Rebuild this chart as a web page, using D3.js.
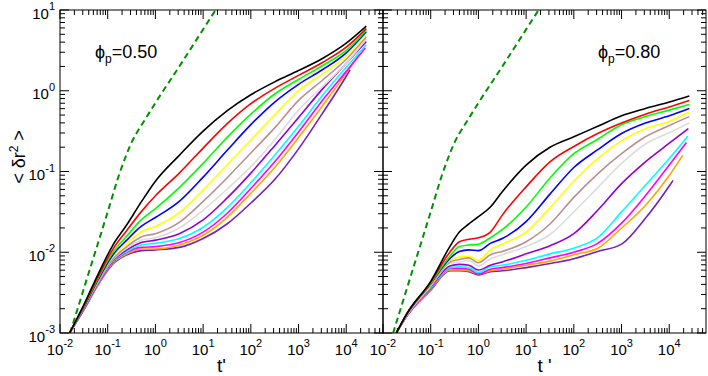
<!DOCTYPE html>
<html>
<head>
<meta charset="UTF-8">
<style>
  body { margin: 0; background: #fff; }
  svg { display: block; font-family: "Liberation Sans", Arial, sans-serif; }
  .curve { fill: none; stroke-width: 1.6px; stroke-linejoin: round; }
  .dash { fill: none; stroke: #009000; stroke-width: 2px; stroke-dasharray: 6,4; }
  .frame { fill: none; stroke: #000; stroke-width: 1px; }
  .tick { stroke: #000; stroke-width: 1px; }
</style>
</head>
<body>
<script src="https://cdn.jsdelivr.net/npm/d3@7"></script>
<script>
var colors = ['#000000', '#ff0000', '#00ff00', '#0000ff', '#ffff00', '#bc8f8f',
              '#dcdcdc', '#9400d3', '#00ffff', '#ff00ff', '#ffa500', '#7221bc'];

// all values are log10; last value of each curve sits at its own end time
var tLeft = [-1.8, -1.5, -1.2, -0.9, -0.6, -0.3, 0, 0.5, 1, 1.5, 2, 2.5, 3, 3.5, 4];
var endLeft = [4.42, 4.42, 4.42, 4.42, 4.42, 4.42, 4.42, 4.42, 4.42, 4.40, 4.28, 4.08];
var msdLeft = [
  [-3.0, -2.65, -2.27, -1.92, -1.66, -1.38, -1.12, -0.80, -0.50, -0.25, -0.05, 0.11, 0.25, 0.40, 0.59, 0.80],
  [-3.0, -2.66, -2.30, -1.97, -1.73, -1.50, -1.30, -1.02, -0.71, -0.41, -0.16, 0.03, 0.19, 0.35, 0.54, 0.77],
  [-3.0, -2.67, -2.32, -2.01, -1.80, -1.60, -1.46, -1.20, -0.90, -0.58, -0.29, -0.04, 0.14, 0.31, 0.50, 0.75],
  [-3.0, -2.68, -2.34, -2.04, -1.85, -1.68, -1.57, -1.37, -1.07, -0.74, -0.42, -0.14, 0.08, 0.26, 0.47, 0.73],
  [-3.0, -2.68, -2.35, -2.06, -1.89, -1.75, -1.68, -1.51, -1.23, -0.92, -0.61, -0.30, 0.00, 0.21, 0.43, 0.70],
  [-3.0, -2.69, -2.36, -2.09, -1.93, -1.81, -1.77, -1.63, -1.37, -1.08, -0.77, -0.46, -0.12, 0.13, 0.39, 0.67],
  [-3.0, -2.69, -2.37, -2.10, -1.95, -1.85, -1.82, -1.70, -1.48, -1.22, -0.94, -0.61, -0.24, 0.05, 0.34, 0.64],
  [-3.0, -2.70, -2.38, -2.11, -1.97, -1.88, -1.85, -1.77, -1.60, -1.33, -1.02, -0.68, -0.33, 0.02, 0.34, 0.61],
  [-3.0, -2.70, -2.38, -2.12, -1.99, -1.91, -1.89, -1.83, -1.69, -1.45, -1.14, -0.80, -0.44, -0.06, 0.29, 0.57],
  [-3.0, -2.71, -2.39, -2.13, -2.00, -1.94, -1.93, -1.88, -1.75, -1.52, -1.21, -0.88, -0.51, -0.12, 0.24, 0.53],
  [-3.0, -2.71, -2.40, -2.14, -2.02, -1.96, -1.96, -1.91, -1.79, -1.57, -1.27, -0.95, -0.58, -0.19, 0.22, 0.46],
  [-3.0, -2.71, -2.40, -2.15, -2.03, -1.98, -1.97, -1.94, -1.83, -1.65, -1.39, -1.10, -0.72, -0.28, 0.18, 0.26]
];

var tRight = [-1.72, -1.5, -1, -0.6, -0.4, -0.2, 0, 0.25, 0.5, 1, 1.5, 2, 2.5, 3, 3.5, 4];
var endRight = [4.42, 4.42, 4.42, 4.42, 4.42, 4.42, 4.42, 4.40, 4.39, 4.36, 4.28, 4.08];
var msdRight = [
  [-3.0, -2.76, -2.36, -1.93, -1.75, -1.65, -1.56, -1.44, -1.25, -0.92, -0.70, -0.57, -0.44, -0.31, -0.22, -0.14, -0.065],
  [-3.0, -2.76, -2.37, -2.00, -1.87, -1.84, -1.82, -1.75, -1.54, -1.19, -0.88, -0.69, -0.53, -0.40, -0.29, -0.20, -0.12],
  [-3.0, -2.76, -2.38, -2.05, -1.93, -1.91, -1.90, -1.82, -1.72, -1.44, -1.08, -0.78, -0.60, -0.42, -0.32, -0.24, -0.17],
  [-3.0, -2.77, -2.39, -2.08, -1.99, -1.97, -1.98, -1.89, -1.83, -1.62, -1.28, -0.95, -0.73, -0.53, -0.40, -0.31, -0.22],
  [-3.0, -2.77, -2.40, -2.10, -2.06, -2.05, -2.10, -1.97, -1.90, -1.75, -1.45, -1.12, -0.84, -0.62, -0.47, -0.38, -0.26],
  [-3.0, -2.77, -2.41, -2.12, -2.09, -2.07, -2.13, -2.03, -1.99, -1.87, -1.65, -1.32, -1.03, -0.78, -0.57, -0.43, -0.32],
  [-3.0, -2.78, -2.42, -2.14, -2.12, -2.10, -2.17, -2.08, -2.03, -1.93, -1.78, -1.50, -1.20, -0.90, -0.66, -0.52, -0.40],
  [-3.0, -2.78, -2.43, -2.17, -2.15, -2.16, -2.22, -2.16, -2.12, -2.02, -1.92, -1.77, -1.48, -1.15, -0.88, -0.65, -0.47],
  [-3.0, -2.78, -2.44, -2.19, -2.18, -2.19, -2.25, -2.18, -2.16, -2.10, -2.02, -1.95, -1.82, -1.50, -1.17, -0.84, -0.56],
  [-3.0, -2.79, -2.45, -2.20, -2.20, -2.21, -2.27, -2.21, -2.19, -2.14, -2.07, -2.00, -1.89, -1.64, -1.30, -0.92, -0.64],
  [-3.0, -2.79, -2.46, -2.22, -2.22, -2.23, -2.27, -2.23, -2.21, -2.16, -2.11, -2.03, -1.95, -1.70, -1.42, -1.05, -0.80],
  [-3.0, -2.79, -2.47, -2.23, -2.23, -2.24, -2.28, -2.24, -2.23, -2.19, -2.14, -2.08, -1.99, -1.90, -1.58, -1.18, -1.11]
];

// dashed reference line, same in both panels
var tDash = [-1.85, -1.5, -1.0, -0.75, -0.6, -0.5, -0.4, -0.2, 0, 0.5, 1.0, 1.35];
var msdDash = [-3.12, -2.45, -1.50, -1.02, -0.78, -0.64, -0.53, -0.34, -0.15, 0.30, 0.76, 1.08];

var xExp = [-2, -1, 0, 1, 2, 3, 4];
var yExp = [-3, -2, -1, 0, 1];
var labels = ['\u03d5', 'p', '=0.50', '=0.80'];

var width = 708, height = 376,
    yTop = 10, yBot = 333,
    xMax = Math.pow(10, 4.77);

var svg = d3.select('body').append('svg').attr('width', width).attr('height', height);
svg.append('rect').attr('width', width).attr('height', height).attr('fill', '#fff');

var y = d3.scaleLog().domain([1e-3, 10]).range([yBot, yTop]);

var panels = [
  {x0: 60, x1: 383, t: tLeft, msd: msdLeft, end: endLeft, lab: labels[2], lx: 95, title: "t'", leftLabels: true},
  {x0: 383, x1: 706, t: tRight, msd: msdRight, end: endRight, lab: labels[3], lx: 598, title: "t '", leftLabels: false}
];

var minorX = [], minorY = [];
xExp.forEach(function(k) {
  for (var m = 2; m <= 9; m++) { var v = m * Math.pow(10, k); if (v < xMax) minorX.push(v); }
});
yExp.forEach(function(k) {
  for (var m = 2; m <= 9; m++) { var v = m * Math.pow(10, k); if (v < 10) minorY.push(v); }
});

panels.forEach(function(p, pi) {
  var x = d3.scaleLog().domain([1e-2, xMax]).range([p.x0, p.x1]);
  var g = svg.append('g');

  g.append('clipPath').attr('id', 'clip' + pi)
    .append('rect').attr('x', p.x0).attr('y', yTop).attr('width', p.x1 - p.x0).attr('height', yBot - yTop);

  var line = d3.line()
    .x(function(d) { return x(Math.pow(10, d[0])); })
    .y(function(d) { return y(Math.pow(10, d[1])); })
    .curve(d3.curveMonotoneX);

  var plot = g.append('g').attr('clip-path', 'url(#clip' + pi + ')');

  plot.append('path').attr('class', 'dash')
    .attr('d', line(tDash.map(function(t, i) { return [t, msdDash[i]]; })));

  // draw bottom curve first so black ends on top
  d3.range(p.msd.length - 1, -1, -1).forEach(function(ci) {
    var pts = p.t.map(function(t, i) { return [t, p.msd[ci][i]]; });
    pts.push([p.end[ci], p.msd[ci][p.t.length]]);
    plot.append('path').attr('class', 'curve').attr('stroke', colors[ci]).attr('d', line(pts));
  });

  // ticks on all four sides, pointing inward
  var majX = xExp.map(function(k) { return Math.pow(10, k); });
  var majY = yExp.map(function(k) { return Math.pow(10, k); });
  function xt(vals, len) {
    vals.forEach(function(v) {
      var px = x(v);
      g.append('line').attr('class', 'tick').attr('x1', px).attr('x2', px).attr('y1', yBot).attr('y2', yBot - len);
      g.append('line').attr('class', 'tick').attr('x1', px).attr('x2', px).attr('y1', yTop).attr('y2', yTop + len);
    });
  }
  function yt(vals, len) {
    vals.forEach(function(v) {
      var py = y(v);
      g.append('line').attr('class', 'tick').attr('x1', p.x0).attr('x2', p.x0 + len).attr('y1', py).attr('y2', py);
      g.append('line').attr('class', 'tick').attr('x1', p.x1).attr('x2', p.x1 - len).attr('y1', py).attr('y2', py);
    });
  }
  xt(majX, 9); xt(minorX, 5);
  yt(majY, 9); yt(minorY, 5);

  g.append('rect').attr('class', 'frame')
    .attr('x', p.x0).attr('y', yTop).attr('width', p.x1 - p.x0).attr('height', yBot - yTop);

  // x tick labels
  xExp.forEach(function(k) {
    var t = g.append('text').attr('x', x(Math.pow(10, k))).attr('y', 355)
      .attr('text-anchor', 'middle').style('font-size', '15px').text('10');
    t.append('tspan').attr('dy', -8).style('font-size', '11px').text(k < 0 ? '-' + (-k) : k);
  });

  if (p.leftLabels) {
    yExp.forEach(function(k) {
      var t = g.append('text').attr('x', 55).attr('y', y(Math.pow(10, k)) + 8.5)
        .attr('text-anchor', 'end').style('font-size', '15px').text('10');
      t.append('tspan').attr('dy', -8.5).style('font-size', '11px').text(k < 0 ? '-' + (-k) : k);
    });
  }

  g.append('text').attr('x', (p.x0 + p.x1) / 2).attr('y', 372)
    .attr('text-anchor', 'middle').style('font-size', '19px').text(p.title);

  var a = g.append('text').attr('x', p.lx).attr('y', 58).style('font-size', '18px').text(labels[0]);
  a.append('tspan').attr('dy', 5).style('font-size', '12px').text(labels[1]);
  a.append('tspan').attr('dy', -5).text(p.lab);
});

var ty = svg.append('text').attr('transform', 'translate(25,157) rotate(-90)')
  .attr('text-anchor', 'middle').style('font-size', '18px').text('< \u03b4r');
ty.append('tspan').attr('dy', -7).style('font-size', '12px').text('2');
ty.append('tspan').attr('dy', 7).text(' >');
</script>
</body>
</html>
